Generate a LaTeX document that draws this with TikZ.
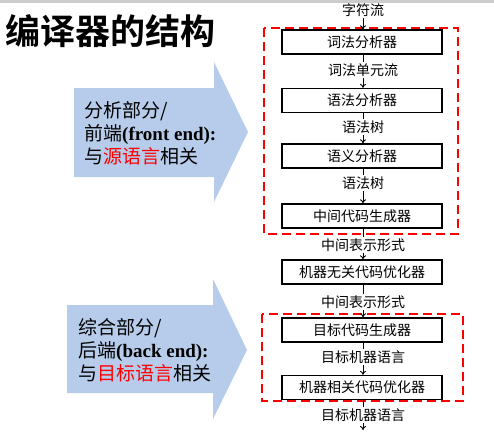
\documentclass[tikz,border=0pt]{standalone}
\usepackage{fontspec}
\usetikzlibrary{arrows.meta}
\setmainfont{Liberation Serif}
\newfontfamily\cjk[BoldFont={Noto Sans CJK SC Bold}]{Noto Sans CJK SC}
\definecolor{arrowblue}{RGB}{183,204,234}
\definecolor{bandgray}{RGB}{204,204,204}
\begin{document}
\begin{tikzpicture}[x=1pt,y=-1pt,
  stage/.style={draw,line width=1.3pt,minimum width=160pt,minimum height=24pt,inner sep=0pt,font=\cjk\fontsize{14}{16}\selectfont},
  flow/.style={inner sep=1.5pt,font=\cjk\fontsize{14}{16}\selectfont},
  part/.style={red,line width=2.5pt,dash pattern=on 9pt off 5pt},
  link/.style={line width=0.9pt,-{To[length=4pt,width=6pt]}},
  side/.style={anchor=west,align=left,inner sep=0pt,font=\fontsize{19}{23}\selectfont}]
\useasboundingbox (0,0) rectangle (494,434);
\fill[bandgray] (0,0) rectangle (494,3);
\node (title) [anchor=west,inner sep=0pt,font=\cjk\bfseries\fontsize{35}{38}\selectfont] at (5,31) {编译器的结构};

\fill[arrowblue] (74,88) -- (214,88) -- (214,62) -- (248,132) -- (214,202) -- (214,177) -- (74,177) -- cycle;
\node (front) [side] at (84,133) {{\cjk 分析部分/}\\{\cjk 前端}\textbf{(front end):}\\{\cjk 与{\color{red}源语言}相关}};
\fill[arrowblue] (67,305) -- (213,305) -- (213,279) -- (247,350) -- (213,419) -- (213,393) -- (67,393) -- cycle;
\node (back) [side] at (78,350) {{\cjk 综合部分/}\\{\cjk 后端}\textbf{(back end):}\\{\cjk 与{\color{red}目标语言}相关}};

\draw[part] (264,28) rectangle (458,234);
\draw[part] (262,314) rectangle (463,401);

\node (l0) [flow] at (363,10) {字符流};
\node (b1) [stage] at (362,42) {词法分析器};
\node (l1) [flow] at (363,70) {词法单元流};
\node (b2) [stage] at (362,100.5) {语法分析器};
\node (l2) [flow] at (363,127) {语法树};
\node (b3) [stage] at (362,156) {语义分析器};
\node (l3) [flow] at (363,183) {语法树};
\node (b4) [stage] at (362,216) {中间代码生成器};
\node (l4) [flow] at (363,245) {中间表示形式};
\node (b5) [stage] at (362,272) {机器无关代码优化器};
\node (l5) [flow] at (363,302) {中间表示形式};
\node (b6) [stage] at (362,330) {目标代码生成器};
\node (l6) [flow] at (363,357) {目标机器语言};
\node (b7) [stage] at (362,387.5) {机器相关代码优化器};
\node (l7) [flow] at (363,415) {目标机器语言};
\coordinate (out) at (363,430);

\draw[link] (l0) -- (l0 |- b1.north);
\foreach \s/\t [count=\i] in {1/2,2/3,3/4,4/5,5/6,6/7} {
  \draw[line width=0.9pt] (b\s.south -| l\s) -- (l\s);
  \draw[link] (l\s) -- (l\s |- b\t.north);
}
\draw[line width=0.9pt] (b7.south -| l7) -- (l7);
\draw[link] (l7) -- (out);
\end{tikzpicture}
\end{document}
